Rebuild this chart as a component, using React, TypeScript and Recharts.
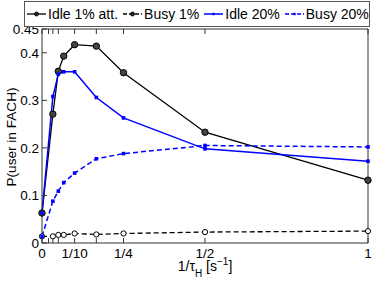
import React from 'react';
import { LineChart, Line, XAxis, YAxis, Legend } from 'recharts';

// x = 1/tau_H
const xValues = [0, 1 / 30, 1 / 20, 1 / 15, 1 / 10, 1 / 6, 1 / 4, 1 / 2, 1];
const idle1 = [0.063, 0.271, 0.361, 0.393, 0.417, 0.414, 0.358, 0.233, 0.132];
const busy1 = [0.014, 0.014, 0.017, 0.017, 0.02, 0.018, 0.02, 0.023, 0.025];
const idle20 = [0.063, 0.308, 0.355, 0.36, 0.36, 0.306, 0.263, 0.198, 0.172];
const busy20 = [0.014, 0.088, 0.109, 0.127, 0.147, 0.177, 0.188, 0.205, 0.202];

const xTicks = [0, 1 / 50, 1 / 30, 1 / 20, 1 / 10, 1 / 6, 1 / 4, 1 / 2, 1];
const xTickLabels = ['0', '', '', '', '1/10', '', '1/4', '1/2', '1'];
const yTicks = [0, 0.1, 0.2, 0.3, 0.4, 0.45];

const data = xValues.map((x, i) => ({
    x,
    idle1: idle1[i],
    busy1: busy1[i],
    idle20: idle20[i],
    busy20: busy20[i],
}));

const FONT = '"Liberation Sans", Arial, Helvetica, sans-serif';
const FRAME = '#333';

type Marker = 'filled' | 'open' | 'small';

const series: { key: string; name: string; color: string; dash?: string; marker: Marker; width: number }[] = [
    { key: 'idle1', name: 'Idle 1% att.', color: '#000', marker: 'filled', width: 1.3 },
    { key: 'busy1', name: 'Busy 1%', color: '#000', dash: '5 3', marker: 'open', width: 1.3 },
    { key: 'idle20', name: 'Idle 20%', color: '#0000ff', marker: 'small', width: 1.5 },
    { key: 'busy20', name: 'Busy 20%', color: '#0000ff', dash: '5 3', marker: 'small', width: 1.5 },
];

const drawMarker = (marker: Marker, cx: number, cy: number, color: string, key?: string) => {
    if (marker === 'filled') {
        return <circle key={key} cx={cx} cy={cy} r={3.2} fill="#444" stroke="#000" strokeWidth={1} />;
    }
    if (marker === 'open') {
        return <circle key={key} cx={cx} cy={cy} r={2.6} fill="#fff" stroke="#000" strokeWidth={1} />;
    }
    return <rect key={key} x={cx - 1.8} y={cy - 1.8} width={3.6} height={3.6} fill={color} />;
};

const formatX = (v: number) => {
    const i = xTicks.findIndex((t) => Math.abs(t - v) < 1e-9);
    return i >= 0 ? xTickLabels[i] : '';
};

// legend drawn in the series' own order (Recharts would sort it by name)
const LegendBox = () => (
    <div
        style={{
            boxSizing: 'border-box',
            width: 346,
            height: 26,
            border: '1px solid #555',
            background: '#fff',
            display: 'flex',
            alignItems: 'center',
            paddingLeft: 2,
            fontFamily: FONT,
            fontSize: 14,
            lineHeight: '22px',
            whiteSpace: 'nowrap',
            color: '#000',
        }}
    >
        {series.map((s) => (
            <span key={s.key} style={{ display: 'flex', alignItems: 'center', marginRight: 5 }}>
                <svg width={19} height={10} style={{ marginRight: 2 }}>
                    <line x1={0} y1={5} x2={19} y2={5} stroke={s.color} strokeWidth={s.width} strokeDasharray={s.dash ? '4 2' : undefined} />
                    {s.marker === 'small'
                        ? <rect x={8.3} y={3.8} width={2.4} height={2.4} fill={s.color} />
                        : <circle cx={9.5} cy={5} r={2} fill="#222" stroke="#000" strokeWidth={0.8} />}
                </svg>
                <span>{s.name}</span>
            </span>
        ))}
    </div>
);

const XLabel = (props: any) => {
    const vb = props.viewBox || { x: 0, y: 0, width: 0 };
    return (
        <text x={vb.x + vb.width / 2} y={vb.y + 28} textAnchor="middle" fontSize={14} fontFamily={FONT} fill="#000">
            <tspan>1/τ</tspan>
            <tspan dy={6} fontSize={10}>H</tspan>
            <tspan dy={-6}> [s</tspan>
            <tspan dy={-6} fontSize={10}>−1</tspan>
            <tspan dy={6}>]</tspan>
        </text>
    );
};

const YLabel = (props: any) => {
    const vb = props.viewBox || { x: 0, y: 0, height: 0 };
    const cy = vb.y + vb.height / 2 + 1;
    return (
        <text x={16} y={cy} transform={`rotate(-90, 16, ${cy})`} textAnchor="middle" fontSize={13.6} fontFamily={FONT} fill="#000">
            P(user in FACH)
        </text>
    );
};

const App: React.FC = () => {
    return (
        <div style={{ position: 'absolute', left: 0, top: 0 }}>
            <LineChart
                width={374}
                height={282}
                data={data}
                margin={{ top: 28, right: 5, bottom: 0, left: 0 }}
                style={{ fontFamily: FONT }}
            >
                <XAxis
                    dataKey="x"
                    type="number"
                    domain={[0, 1]}
                    ticks={xTicks}
                    interval={0}
                    tickFormatter={formatX}
                    height={39}
                    tickSize={-5}
                    tickMargin={10}
                    stroke={FRAME}
                    tick={{ fontSize: 13.5, fill: '#000' }}
                    label={<XLabel />}
                />
                <XAxis
                    xAxisId="top"
                    orientation="top"
                    dataKey="x"
                    type="number"
                    domain={[0, 1]}
                    ticks={xTicks}
                    interval={0}
                    tickFormatter={() => ''}
                    height={1}
                    tickSize={-5}
                    stroke={FRAME}
                />
                <YAxis
                    type="number"
                    domain={[0, 0.45]}
                    ticks={yTicks}
                    interval={0}
                    width={42}
                    tickSize={-5}
                    tickMargin={8}
                    stroke={FRAME}
                    tick={{ fontSize: 13.5, fill: '#000' }}
                    label={<YLabel />}
                />
                <YAxis
                    yAxisId="right"
                    orientation="right"
                    type="number"
                    domain={[0, 0.45]}
                    ticks={yTicks}
                    interval={0}
                    width={1}
                    tickSize={-5}
                    tickFormatter={() => ''}
                    stroke={FRAME}
                />
                <Legend
                    layout="vertical"
                    align="center"
                    verticalAlign="middle"
                    content={<LegendBox />}
                    wrapperStyle={{ top: 1, left: 24, width: 346, height: 26 }}
                />
                {series.map((s) => (
                    <Line
                        key={s.key}
                        dataKey={s.key}
                        name={s.name}
                        type="linear"
                        stroke={s.color}
                        strokeWidth={s.width}
                        strokeDasharray={s.dash}
                        isAnimationActive={false}
                        dot={(p: any) => drawMarker(s.marker, p.cx, p.cy, s.color, `${s.key}-${p.index}`)}
                        activeDot={false}
                    />
                ))}
            </LineChart>
        </div>
    );
};

export default App;
